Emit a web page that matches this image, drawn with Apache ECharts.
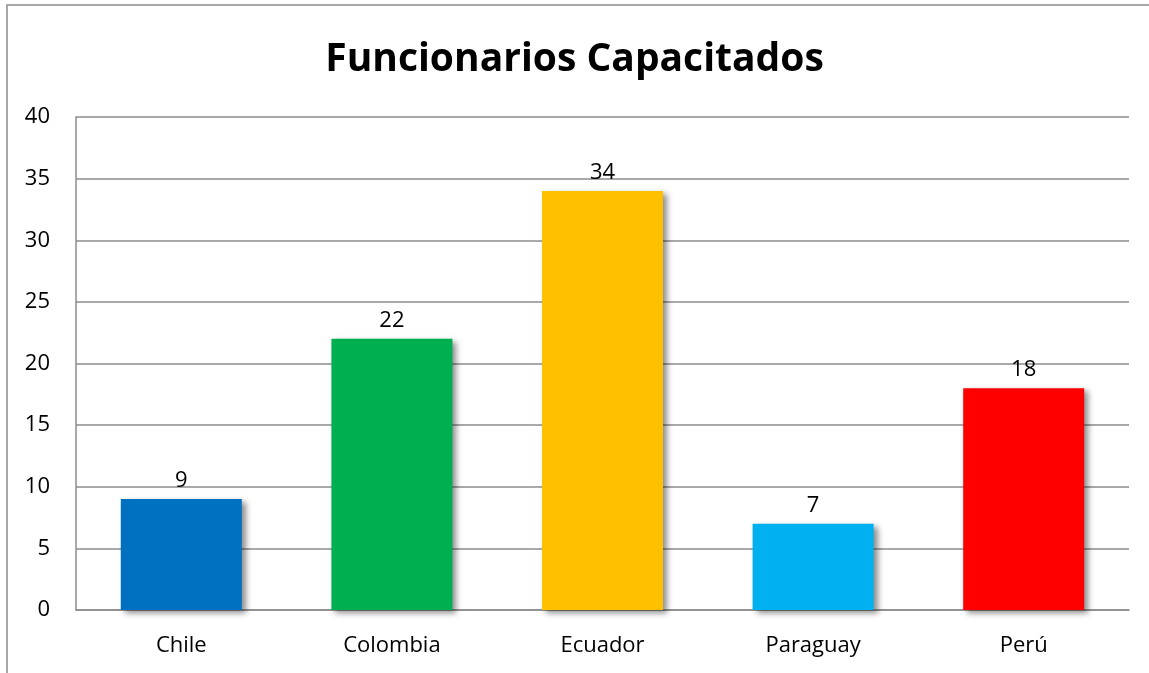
<!DOCTYPE html>
<html>
<head>
<meta charset="utf-8">
<script src="https://cdn.jsdelivr.net/npm/echarts@6/dist/echarts.min.js"></script>
<style>
  html, body { margin: 0; padding: 0; background: #fff; }
  #chart { width: 1149px; height: 673px; }
</style>
</head>
<body>
<div id="chart"></div>
<script>
const countries = ['Chile', 'Colombia', 'Ecuador', 'Paraguay', 'Perú'];
const trained = [9, 22, 34, 7, 18];
const barColors = ['#0070C0', '#00B050', '#FFC000', '#00B0F0', '#FF0000'];

const chart = echarts.init(document.getElementById('chart'));
const font = 'Open Sans, Liberation Sans, sans-serif';

chart.setOption({
  animation: false,
  backgroundColor: '#fff',
  title: {
    text: 'Funcionarios Capacitados',
    left: 'center',
    top: 35,
    textStyle: { fontFamily: font, fontSize: 39, fontWeight: 'bold', color: '#000' }
  },
  graphic: [{
    type: 'rect',
    shape: { x: 7, y: 5, width: 1200, height: 700 },
    style: { fill: 'none', stroke: '#8c8c8c', lineWidth: 1.5 },
    silent: true
  }],
  grid: { left: 76, right: 20, top: 117, bottom: 63 },
  xAxis: {
    type: 'category',
    data: countries,
    axisLine: { lineStyle: { color: '#8c8c8c', width: 1.5 } },
    axisTick: { show: false },
    axisLabel: { fontFamily: font, fontSize: 22, color: '#000', margin: 25 }
  },
  yAxis: {
    type: 'value',
    min: 0,
    max: 40,
    interval: 5,
    axisLine: { show: true, lineStyle: { color: '#8c8c8c', width: 1.5 } },
    axisTick: { show: false },
    axisLabel: { fontFamily: font, fontSize: 22, color: '#000', margin: 26 },
    splitLine: { lineStyle: { color: '#8c8c8c', width: 1.5 } }
  },
  series: [{
    type: 'bar',
    barWidth: 121,
    data: trained.map((v, i) => ({
      value: v,
      itemStyle: { color: barColors[i] }
    })),
    itemStyle: {
      shadowColor: 'rgba(0,0,0,0.45)',
      shadowBlur: 6,
      shadowOffsetX: 4,
      shadowOffsetY: 3
    },
    label: {
      show: true,
      position: 'top',
      distance: 7,
      fontFamily: font,
      fontSize: 22,
      color: '#000'
    }
  }]
});
</script>
</body>
</html>
